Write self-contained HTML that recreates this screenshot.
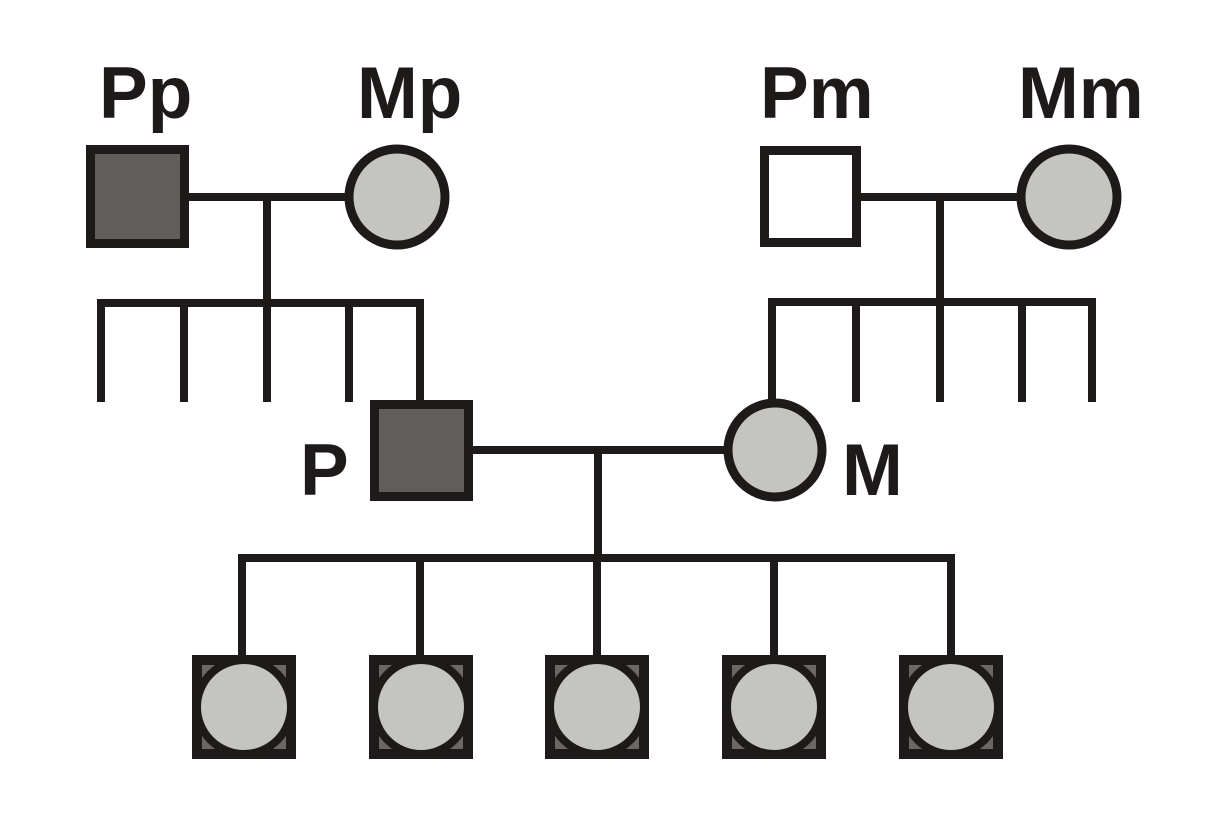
<!DOCTYPE html>
<html><head><style>body{margin:0;background:#fff}svg{display:block}</style></head><body>
<svg width="1232" height="833" viewBox="0 0 1232 833" xmlns="http://www.w3.org/2000/svg">
<g font-family="Liberation Sans, sans-serif" font-weight="bold" font-size="73" fill="#1e1a19">
<text x="99" y="118">Pp</text>
<text x="357" y="118">Mp</text>
<text x="760" y="118">Pm</text>
<text x="1018" y="118">Mm</text>
<text x="300" y="495">P</text>
<text x="842" y="495">M</text>
</g>
<g stroke="#1e1a19" stroke-width="8" fill="none">
<path d="M189 197H350M267 197V303M97 303H424M101 303V402M184 303V402M267 303V402M349 303V402M420 303V402"/>
<path d="M860 197H1022M940 197V302M768 302H1096M772 302V402M856 302V402M940 302V402M1022 302V402M1092 302V402"/>
<path d="M472 450H728M598 450V558M238 558H955M242 558V658M420 558V658M597 558V658M774 558V658M951 558V658"/>
</g>
<g stroke="#1e1a19" stroke-width="9">
<rect x="90.5" y="149.5" width="94" height="94" fill="#5f5e5d"/>
<circle cx="397" cy="197" r="48" fill="#c4c4c2"/>
<rect x="764.5" y="150.5" width="92" height="92" fill="#fff"/>
<circle cx="1069" cy="197" r="48" fill="#c4c4c2"/>
<rect x="374.5" y="404.5" width="94" height="92" fill="#5f5e5d"/>
<circle cx="775" cy="450" r="47" fill="#c4c4c2"/>
</g>
<g stroke="#1e1a19">
<g transform="translate(244,707)"><rect x="-47" y="-47" width="94" height="94" fill="#6a6866" stroke-width="10"/><circle r="47" fill="#c4c4c2" stroke-width="8"/></g>
<g transform="translate(421,707)"><rect x="-47" y="-47" width="94" height="94" fill="#6a6866" stroke-width="10"/><circle r="47" fill="#c4c4c2" stroke-width="8"/></g>
<g transform="translate(597,707)"><rect x="-47" y="-47" width="94" height="94" fill="#6a6866" stroke-width="10"/><circle r="47" fill="#c4c4c2" stroke-width="8"/></g>
<g transform="translate(774,707)"><rect x="-47" y="-47" width="94" height="94" fill="#6a6866" stroke-width="10"/><circle r="47" fill="#c4c4c2" stroke-width="8"/></g>
<g transform="translate(951,707)"><rect x="-47" y="-47" width="94" height="94" fill="#6a6866" stroke-width="10"/><circle r="47" fill="#c4c4c2" stroke-width="8"/></g>
</g>
</svg>
</body></html>
